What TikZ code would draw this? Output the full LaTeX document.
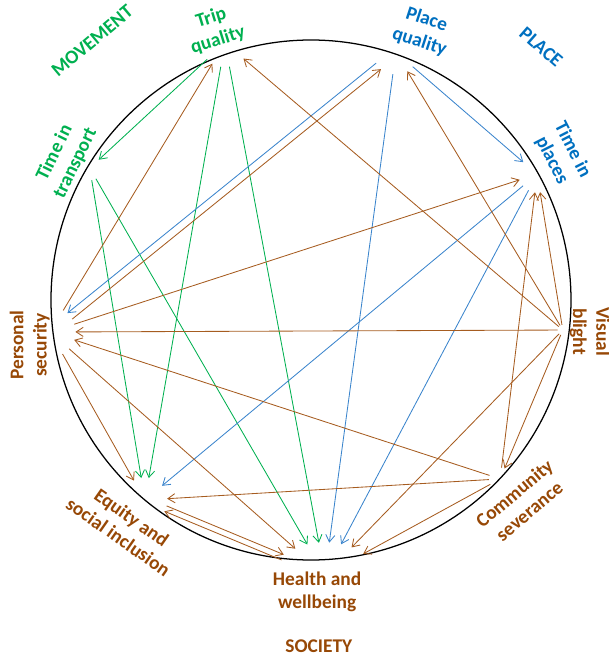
\documentclass[tikz,border=0pt]{standalone}
\usepackage{fontspec}
\setmainfont{Carlito}
\usetikzlibrary{arrows.meta,shapes.geometric}

\definecolor{movegreen}{HTML}{00B050}
\definecolor{placeblue}{HTML}{0070C0}
\definecolor{linkblue}{HTML}{3A84CC}
\definecolor{socbrown}{HTML}{974806}
\definecolor{linkbrown}{HTML}{A65C20}

\tikzset{
  hub/.style={circle, inner sep=0pt, minimum size=#1},
  lbl/.style={font=\fontsize{13.8}{16.5}\selectfont\bfseries, align=center},
  link/.style={line width=0.6pt, -{Straight Barb[length=5pt,width=6.5pt]}},
}

\begin{document}
\begin{tikzpicture}
  \useasboundingbox (-7.775,-8.975) rectangle (7.45,7.5);
  \draw[line width=0.9pt] (0,0) circle (6.5);
  % where the links meet each topic
  \path
    (108.5:6.78) node[hub=1.2cm] (tq){}
    (71.1:6.55) node[hub=1.1cm] (pq){}
    (29.1:6.47) node[hub=0.9cm] (tip){}
    (149.2:6.44) node[hub=0.6cm] (tit){}
    (187.0:6.57) node[hub=1.25cm] (ps){}
    (353.2:6.34) node[hub=0.25cm] (vb){}
    (316.6:6.51) node[hub=0.55cm] (cs){}
    (230.3:6.5) node[hub=1.1cm] (eq){}
    (272.9:6.88) node[ellipse, inner sep=0pt, minimum width=2.5cm, minimum height=1.6cm] (hw){};
  % topic names
  \path
    (130.2:8.48) node[lbl, movegreen, rotate=40] (movement){MOVEMENT}
    (109.6:7.19) node[lbl, movegreen, rotate=17] (tql){Trip\\quality}
    (67.4:7.29) node[lbl, placeblue, rotate=-18] (pql){Place\\quality}
    (47.7:8.55) node[lbl, placeblue, rotate=-41] (place){PLACE}
    (30.0:7.25) node[lbl, placeblue, rotate=-63] (tipl){Time in\\places}
    (150.0:7.10) node[lbl, movegreen, rotate=64] (titl){Time in\\transport}
    (353.5:7.02) node[lbl, socbrown, rotate=-90] (vbl){Visual\\blight}
    (189.1:7.12) node[lbl, socbrown, rotate=90] (psl){Personal\\security}
    (230.7:7.34) node[lbl, socbrown, rotate=-35] (eql){Equity and\\social inclusion}
    (316.2:7.30) node[lbl, socbrown, rotate=40] (csl){Community\\severance}
    (271.2:7.30) node[lbl, socbrown] (hwl){Health and\\wellbeing}
    (271.3:8.65) node[lbl, socbrown] (society){SOCIETY};
  \begin{scope}[link, movegreen]
    \draw (tq) to (tit);
    \draw (tq) to (eq);
    \draw (tq) to (hw);
    \draw (tit) to (eq);
    \draw (tit) to (hw);
  \end{scope}
  \begin{scope}[link, linkblue]
    \draw[transform canvas={shift={(-0.06,0.075)}}] (pq) to (ps);
    \draw (pq) to (tip);
    \draw (pq) to (hw);
    \draw (tip) to (eq);
    \draw (tip) to (hw);
  \end{scope}
  \begin{scope}[link, linkbrown]
    \draw (ps) to (tq);
    \draw[transform canvas={shift={(0.06,-0.075)}}] (ps) to (pq);
    \draw (ps) to (tip);
    \draw (ps) to (hw);
    \draw (ps) to (eq);
    \draw (vb) to (tq);
    \draw (vb) to (pq);
    \draw (vb) to (tip);
    \draw (vb) to (ps);
    \draw (vb) to (hw);
    \draw (vb) to (cs);
    \draw (cs) to (tip);
    \draw (cs) to (ps);
    \draw (cs) to (eq);
    \draw (cs) to (hw);
    \draw[transform canvas={shift={(0.028,0.067)}}] (eq) to (hw);
    \draw[transform canvas={shift={(-0.028,-0.067)}}] (hw) to (eq);
  \end{scope}
\end{tikzpicture}
\end{document}
